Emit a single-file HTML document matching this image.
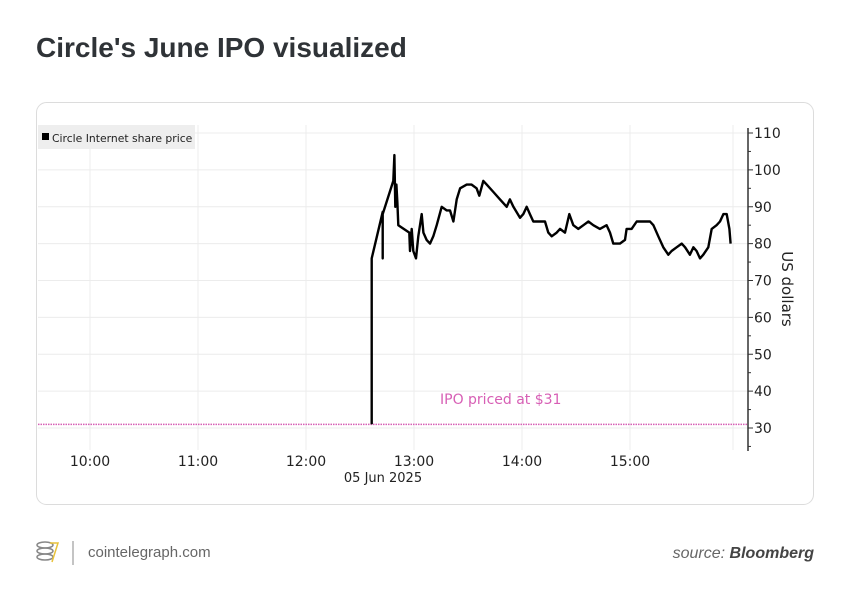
<!DOCTYPE html>
<html><head><meta charset="utf-8"><style>
body{margin:0;width:850px;height:600px;background:#fff;font-family:"Liberation Sans","DejaVu Sans",sans-serif;overflow:hidden}
</style></head><body>
<svg width="850" height="600" xmlns="http://www.w3.org/2000/svg">
<text x="36" y="57" font-size="28" font-weight="bold" fill="#2f3337">Circle's June IPO visualized</text>
<rect x="36.5" y="102.5" width="777" height="402" rx="10" fill="#fff" stroke="#dcdcdc"/>
<g id="grid"></g>
<rect x="38" y="125" width="157" height="24" fill="#eeeeee"/>
<rect x="42" y="133" width="7" height="7" fill="#000"/>
<text x="52" y="142" font-size="10.8" fill="#222" font-family="DejaVu Sans,sans-serif">Circle Internet share price</text>
<g id="axes"></g>
<path id="series" fill="none" stroke="#000" stroke-width="2.4" stroke-linejoin="round"/>
<text x="383" y="482" font-size="13" fill="#222" text-anchor="middle" font-family="DejaVu Sans,sans-serif">05 Jun 2025</text>
<text transform="translate(782,289) rotate(90)" font-size="15" fill="#222" text-anchor="middle" font-family="DejaVu Sans,sans-serif">US dollars</text>
<g>
<ellipse cx="45" cy="545" rx="8" ry="3" fill="none" stroke="#888" stroke-width="1.5"/>
<ellipse cx="45" cy="551" rx="8" ry="3" fill="none" stroke="#888" stroke-width="1.5"/>
<ellipse cx="45" cy="557" rx="8" ry="3" fill="none" stroke="#888" stroke-width="1.5"/>
<path d="M50 543 L58 543 L52 562" fill="none" stroke="#e8c23a" stroke-width="1.5"/>
<line x1="73" y1="541" x2="73" y2="565" stroke="#888"/>
</g>
<text x="88" y="557" font-size="15" fill="#666">cointelegraph.com</text>
<text x="814" y="558" font-size="16" fill="#666" text-anchor="end" font-style="italic">source: <tspan font-weight="bold" fill="#444">Bloomberg</tspan></text>
</svg>
<script>
const hourLabels=["10:00","11:00","12:00","13:00","14:00","15:00"];
const yTicks=[30,40,50,60,70,80,90,100,110];
const ipoPrice=31;
const times=[156.5,156.5,156.5,162.6,162.6,162.6,168.5,169.1,169.6,170.2,170.8,171.3,177.4,177.8,178.7,179.6,181.1,182.4,184.3,185.2,187,188.9,190.7,192.6,195.4,198.1,200,201.9,203.7,205.6,209.3,212,214.8,216.3,218.5,220.4,224.1,227.8,231.5,233.3,235.2,238.9,240.7,242.6,244.4,246.3,250,252.8,254.6,256.5,259.3,261.1,263.9,266.3,268.5,271.3,274.1,276.9,279.6,283.3,287,288.9,290.7,294.4,297.2,298.1,300.9,303.7,307.4,311.1,313,315.7,318.5,321.3,323.1,325.9,328.7,330.6,333.3,335.2,337,338.9,340.7,343.5,345.4,348.1,350,351.9,353.7,355.2,355.9];
const prices=[31,64,76,88.6,76,88,97,104,90,96,91,85,83,78,84,78,76,82,88,83,81,80,82,85,90,89,89,86,92,95,96,96,95,93,97,96,94,92,90,92,90,87,88,90,88,86,86,86,83,82,83,84,83,88,85,84,85,86,85,84,85,83,80,80,81,84,84,86,86,86,85,82,79,77,78,79,80,79,77,79,78,76,77,79,84,85,86,88,88,84,80];
const NS="http://www.w3.org/2000/svg";
const X0=90,PXH=108,plotL=38,plotR=748,plotT=125,plotB=450;
const xs=m=>X0+m/60*PXH;
const ys=v=>428-(v-30)*3.6875;
const grid=document.getElementById('grid'),axes=document.getElementById('axes');
function mk(p,tag,a){const e=document.createElementNS(NS,tag);for(const k in a)e.setAttribute(k,a[k]);p.appendChild(e);return e;}
yTicks.forEach(v=>{
 const l=mk(grid,'line',{x1:plotL,x2:plotR,y1:ys(v),y2:ys(v),stroke:'#ececec'});
 
 
 const t=mk(axes,'line',{x1:plotR,x2:plotR+5,y1:ys(v),y2:ys(v),stroke:'#333'});
 
 
 const tx=mk(axes,'text',{x:plotR+6,y:ys(v)+5,'font-size':14,fill:'#222','font-family':'DejaVu Sans,sans-serif'});
 tx.textContent=v;
 
 
 const mt=mk(axes,'line',{x1:plotR,x2:plotR+3,y1:ys(v-5),y2:ys(v-5),stroke:'#333'});
 
 
});
hourLabels.forEach((h,i)=>{
 const x=xs(i*60);
 const l=mk(grid,'line',{x1:x,x2:x,y1:plotT,y2:plotB,stroke:'#ececec'});
 
 
 const tx=mk(axes,'text',{x:x,y:466,'font-size':14,fill:'#222','text-anchor':'middle','font-family':'DejaVu Sans,sans-serif'});
 tx.textContent=h;
 
 
});
const el=mk(grid,'line',{x1:733,x2:733,y1:plotT,y2:plotB,stroke:'#ececec'});


const ax=mk(axes,'line',{x1:plotR,x2:plotR,y1:128,y2:451,stroke:'#333','stroke-width':1.5});


const ipo=mk(axes,'line',{x1:plotL,x2:plotR,y1:ys(ipoPrice),y2:ys(ipoPrice),stroke:'#d75fb5','stroke-width':1.5,'stroke-dasharray':'1.5,1'});


const ipt=mk(axes,'text',{x:440,y:404,'font-size':14,fill:'#d75fb5','font-family':'DejaVu Sans,sans-serif'});
ipt.textContent='IPO priced at $31';


document.getElementById('series').setAttribute('d',times.map((t,i)=>(i?'L':'M')+xs(t).toFixed(1)+' '+ys(prices[i]).toFixed(1)).join(' '));
</script>
</body></html>
